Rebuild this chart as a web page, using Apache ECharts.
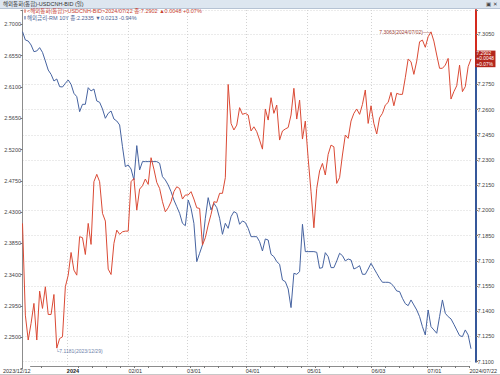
<!DOCTYPE html>
<html><head><meta charset="utf-8">
<script src="https://cdn.jsdelivr.net/npm/echarts@6/dist/echarts.min.js"></script>
<style>html,body{margin:0;padding:0;background:#fff}#c{width:500px;height:375px}</style>
</head><body><div id="c"></div>
<script>
const dates = [
'2023/12/12','2023/12/13','2023/12/14','2023/12/15',
'2023/12/18','2023/12/19','2023/12/20','2023/12/21','2023/12/22',
'2023/12/26','2023/12/27','2023/12/28','2023/12/29',
'2024/01/02','2024/01/03','2024/01/04','2024/01/05',
'2024/01/08','2024/01/09','2024/01/10','2024/01/11','2024/01/12',
'2024/01/15','2024/01/16','2024/01/17','2024/01/18','2024/01/19',
'2024/01/22','2024/01/23','2024/01/24','2024/01/25','2024/01/26',
'2024/01/29','2024/01/30','2024/01/31',
'2024/02/01','2024/02/02',
'2024/02/05','2024/02/06','2024/02/07','2024/02/08','2024/02/09',
'2024/02/12','2024/02/13','2024/02/14','2024/02/15','2024/02/16',
'2024/02/19','2024/02/20','2024/02/21','2024/02/22','2024/02/23',
'2024/02/26','2024/02/27','2024/02/28','2024/02/29',
'2024/03/01',
'2024/03/04','2024/03/05','2024/03/06','2024/03/07','2024/03/08',
'2024/03/11','2024/03/12','2024/03/13','2024/03/14','2024/03/15',
'2024/03/18','2024/03/19','2024/03/20','2024/03/21','2024/03/22',
'2024/03/25','2024/03/26','2024/03/27','2024/03/28','2024/03/29',
'2024/04/01','2024/04/02','2024/04/03','2024/04/04','2024/04/05',
'2024/04/08','2024/04/09','2024/04/10','2024/04/11','2024/04/12',
'2024/04/15','2024/04/16','2024/04/17','2024/04/18','2024/04/19',
'2024/04/22','2024/04/23','2024/04/24','2024/04/25','2024/04/26',
'2024/04/29','2024/04/30',
'2024/05/01','2024/05/02','2024/05/03',
'2024/05/06','2024/05/07','2024/05/08','2024/05/09','2024/05/10',
'2024/05/13','2024/05/14','2024/05/15','2024/05/16','2024/05/17',
'2024/05/20','2024/05/21','2024/05/22','2024/05/23','2024/05/24',
'2024/05/27','2024/05/28','2024/05/29','2024/05/30','2024/05/31',
'2024/06/03','2024/06/04','2024/06/05','2024/06/06','2024/06/07',
'2024/06/10','2024/06/11','2024/06/12','2024/06/13','2024/06/14',
'2024/06/17','2024/06/18','2024/06/19','2024/06/20','2024/06/21',
'2024/06/24','2024/06/25','2024/06/26','2024/06/27','2024/06/28',
'2024/07/01','2024/07/02','2024/07/03','2024/07/04','2024/07/05',
'2024/07/08','2024/07/09','2024/07/10','2024/07/11','2024/07/12',
'2024/07/15','2024/07/16','2024/07/17','2024/07/18','2024/07/19',
'2024/07/22'
];

// USDCNH (right axis)
const usdcnh = [
7.1923,7.1377,7.1229,7.1328,7.1447,7.1229,7.1520,7.1417,7.1546,7.1381,
7.1381,7.1500,7.1181,7.1238,7.1248,7.1546,7.1615,7.1750,7.1645,7.1615,
7.1844,7.1838,7.1738,7.1923,7.1798,7.2171,7.2215,7.2171,7.1983,7.1937,
7.1651,7.1619,7.1804,7.1883,7.1858,7.1873,7.1877,7.1877,7.2171,7.2191,
7.2002,7.2127,7.2147,7.2187,7.2155,7.2314,7.2246,7.2167,7.2131,7.2052,
7.1992,7.2016,7.2052,7.2112,7.2141,7.2131,7.2068,7.2092,7.2092,7.2112,
7.2068,7.2016,7.2012,7.1794,7.1838,7.1913,7.1977,7.2052,7.2048,7.2102,
7.2102,7.2195,7.2750,7.2518,7.2479,7.2508,7.2612,7.2572,7.2578,7.2568,
7.2473,7.2498,7.2469,7.2419,7.2365,7.2604,7.2538,7.2671,7.2578,7.2627,
7.2419,7.2473,7.2485,7.2494,7.2568,7.2727,7.2544,7.2657,7.2425,7.2532,
7.2310,7.2112,7.1897,7.2131,7.2235,7.2280,7.2211,7.2334,7.2389,7.2379,
7.2161,7.2195,7.2330,7.2449,7.2429,7.2532,7.2578,7.2604,7.2572,7.2631,
7.2717,7.2518,7.2623,7.2518,7.2455,7.2552,7.2578,7.2627,7.2643,7.2703,
7.2623,7.2697,7.2691,7.2691,7.2790,7.2901,7.2885,7.2810,7.2889,7.3004,
7.3014,7.2971,7.3034,7.3063,7.3008,7.2925,7.2846,7.2846,7.2865,7.2905,
7.2663,7.2707,7.2742,7.2865,7.2707,7.2737,7.2856,7.2902
];

// RM 10Y (left axis)
const rm10y = [
2.6895,2.6775,2.6760,2.6703,2.6607,2.6617,2.6665,2.6597,2.6473,2.6343,
2.6281,2.6185,2.6214,2.6104,2.6099,2.6152,2.6200,2.6137,2.6008,2.5960,
2.5744,2.5850,2.5850,2.6089,2.6042,2.6070,2.5898,2.5879,2.5783,2.5649,
2.5720,2.5754,2.5639,2.5610,2.5553,2.5241,2.4954,2.4978,2.4920,2.4762,
2.5256,2.4906,2.5026,2.5026,2.5026,2.5026,2.5026,2.5026,2.5002,2.4810,
2.4762,2.4690,2.4594,2.4474,2.4379,2.4283,2.4139,2.4105,2.4474,2.4355,
2.4139,2.3588,2.3708,2.3828,2.4211,2.4508,2.4331,2.4427,2.4364,2.4211,
2.3981,2.4139,2.4067,2.4235,2.4307,2.4283,2.4125,2.4173,2.4150,2.4067,
2.3947,2.3947,2.3947,2.3875,2.3741,2.3914,2.3899,2.3693,2.3660,2.3588,
2.3550,2.3324,2.3300,2.3195,2.2927,2.3420,2.3406,2.3444,2.4125,2.3732,
2.3732,2.3732,2.3732,2.3722,2.3492,2.3502,2.3717,2.3660,2.3502,2.3502,
2.3598,2.3708,2.3674,2.3598,2.3626,2.3612,2.3482,2.3502,2.3530,2.3406,
2.3406,2.3482,2.3564,2.3492,2.3420,2.3348,2.3291,2.3291,2.3291,2.3276,
2.3228,2.3166,2.3157,2.3061,2.2984,2.2955,2.3037,2.2965,2.2893,2.2797,
2.2653,2.2534,2.2893,2.2653,2.2606,2.2558,2.2797,2.3037,2.2845,2.2797,
2.2764,2.2687,2.2606,2.2524,2.2510,2.2606,2.2534,2.2335
];

const xTickDates = ['2023/12/12','2024/01/02','2024/02/01','2024/03/01','2024/04/01','2024/05/01','2024/06/03','2024/07/01','2024/07/22'];
const xTickTexts = ['2023/12/12','2024','02/01','03/01','04/01','05/01','06/03','07/01','2024/07/22'];

const titleText = '해외통화(통합)-USDCNH-BID (일)';
const legendRed = '<해외통화(통합)>USDCNH-BID>2024/07/22 종:7.2902 ▲0.0048 +0.07%';
const legendBlue = '해외금리-RM 10Y 종:2.2335 ▼0.0213 -0.94%';
const maxText = '7.3063(2024/07/02)';
const minText = '7.1181(2023/12/29)';
const lastTag = ['7.2902', '+0.0048', '+0.07%'];

const FF = "'Liberation Sans','Noto Sans CJK KR',sans-serif";
const RED = '#da4a35', BLUE = '#4663a0';

const labelMap = {};
xTickDates.forEach((d, i) => { labelMap[d] = xTickTexts[i]; });
const gridDates = new Set(xTickDates.slice(1, -1));
const isMonday = v => new Date(v.replace(/\//g, '-') + 'T00:00:00').getDay() === 1;

const chart = echarts.init(document.getElementById('c'), null, {renderer: 'svg'});
const gL = 22.5, gR = 29;
chart.setOption({
  animation: false,
  backgroundColor: '#ffffff',
  textStyle: {fontFamily: FF},
  grid: [
    {left: gL, right: gR, top: 10, bottom: 9},
    {left: gL, right: gR, top: 10, bottom: 6.4},
    {left: gL, right: gR, top: 10, bottom: 13.3}
  ],
  xAxis: [
    {
      type: 'category', gridIndex: 0, data: dates, boundaryGap: false,
      axisLine: {lineStyle: {color: '#8c8c8c', width: 1}},
      axisTick: {show: true, length: 2, interval: (i, v) => isMonday(v), lineStyle: {color: '#777'}},
      axisLabel: {
        interval: (i, v) => v in labelMap,
        formatter: v => v === '2024/01/02' ? '{b|2024}' : labelMap[v],
        fontSize: 5.5, color: '#333', margin: 2, align: 'left', alignMinLabel: 'right', alignMaxLabel: 'left',
        fontFamily: FF,
        rich: {b: {fontWeight: 'bold', fontSize: 5.5, color: '#222', fontFamily: FF}}
      },
      splitLine: {show: true, interval: (i, v) => gridDates.has(v), lineStyle: {color: '#d2d2d2', type: [1, 2], width: 1}}
    },
    {type: 'category', gridIndex: 1, data: dates, boundaryGap: false, show: false},
    {type: 'category', gridIndex: 2, data: dates, boundaryGap: false, show: false}
  ],
  yAxis: [
    {
      type: 'value', gridIndex: 1, position: 'left', min: 2.205, max: 2.7206, interval: 0.045,
      axisLine: {show: true, lineStyle: {color: '#8c8c8c', width: 1}},
      axisTick: {show: true, length: 2, lineStyle: {color: '#777'}},
      axisLabel: {fontSize: 5.5, color: '#444', margin: 1.5, fontFamily: FF,
        formatter: v => (v > 2.7001 || v < 2.2499) ? '' : v.toFixed(4)},
      splitLine: {show: false}
    },
    {
      type: 'value', gridIndex: 2, position: 'right', offset: 5, min: 7.11, max: 7.3193, interval: 0.015,
      axisLine: {show: true, lineStyle: {width: 2,
        color: new echarts.graphic.LinearGradient(0, 10, 0, 362, [
          {offset: 0, color: '#d42a1e'}, {offset: 0.137, color: '#d42a1e'},
          {offset: 0.137, color: '#35579a'}, {offset: 1, color: '#35579a'}], true)}},
      axisTick: {show: true, length: 2, lineStyle: {color: '#777'}},
      axisLabel: {fontSize: 5.5, color: '#444', margin: 1.5, fontFamily: FF,
        formatter: v => (v > 7.3051 || v < 7.1099) ? '' : v.toFixed(4)},
      splitLine: {show: true, lineStyle: {color: '#d6d6d6', type: [1, 2], width: 1}}
    },
    {type: 'value', gridIndex: 0, show: false, splitLine: {show: false}}
  ],
  series: [
    {
      name: 'RM 10Y', type: 'line', xAxisIndex: 1, yAxisIndex: 0, data: rm10y,
      symbol: 'none', lineStyle: {color: BLUE, width: 1}, itemStyle: {color: BLUE}, z: 3
    },
    {
      name: 'USDCNH', type: 'line', xAxisIndex: 2, yAxisIndex: 1, data: usdcnh,
      symbol: 'none', lineStyle: {color: RED, width: 1}, itemStyle: {color: RED}, z: 4,
      endLabel: {show: true, formatter: lastTag.join('\n'), backgroundColor: '#b3261c', color: '#fff',
        fontSize: 4.8, lineHeight: 5.2, padding: [0.5, 1.5], distance: 4, fontFamily: FF},
      markPoint: {
        symbol: 'circle', symbolSize: 0, silent: true,
        data: [
          {type: 'max', label: {show: true, position: 'left', distance: 1, formatter: maxText + '──',
            fontSize: 5, color: '#9b3e33', fontFamily: FF}},
          {type: 'min', label: {show: true, position: [-1, 0], verticalAlign: 'top', align: 'left', formatter: '└' + minText,
            fontSize: 5, color: '#6f83ab', fontFamily: FF}}
        ]
      }
    }
  ],
  graphic: [
    {type: 'rect', shape: {x: 0, y: 0, width: 500, height: 8.5}, style: {fill: '#dde6f0'}, silent: true, z: 10},
    {type: 'line', shape: {x1: 0, y1: 8.5, x2: 500, y2: 8.5}, style: {stroke: '#b6c3d4', lineWidth: 1}, silent: true, z: 10},
    {type: 'text', x: 3, y: 4.3, style: {text: titleText, fontSize: 5.5, fill: '#333', verticalAlign: 'middle', fontFamily: FF}, z: 11},
    {type: 'text', x: 486, y: 4.3, style: {text: '▣ ✕', fontSize: 5.5, fill: '#444', verticalAlign: 'middle', fontFamily: "'DejaVu Sans',sans-serif"}, z: 11},
    {type: 'rect', shape: {x: 24.5, y: 9.2, width: 1, height: 3.6}, style: {fill: RED}, z: 11},
    {type: 'text', x: 27, y: 11, style: {text: legendRed, fontSize: 5.5, fill: '#c9402f', verticalAlign: 'middle', fontFamily: FF}, z: 11},
    {type: 'rect', shape: {x: 24.5, y: 15.9, width: 1, height: 3.6}, style: {fill: BLUE}, z: 11},
    {type: 'text', x: 27, y: 17.7, style: {text: legendBlue, fontSize: 5.5, fill: '#4a6294', verticalAlign: 'middle', fontFamily: FF}, z: 11},
    {type: 'line', shape: {x1: 0, y1: 374.5, x2: 500, y2: 374.5}, style: {stroke: '#c8c8c8', lineWidth: 1}, silent: true}
  ]
});
</script>
</body></html>
